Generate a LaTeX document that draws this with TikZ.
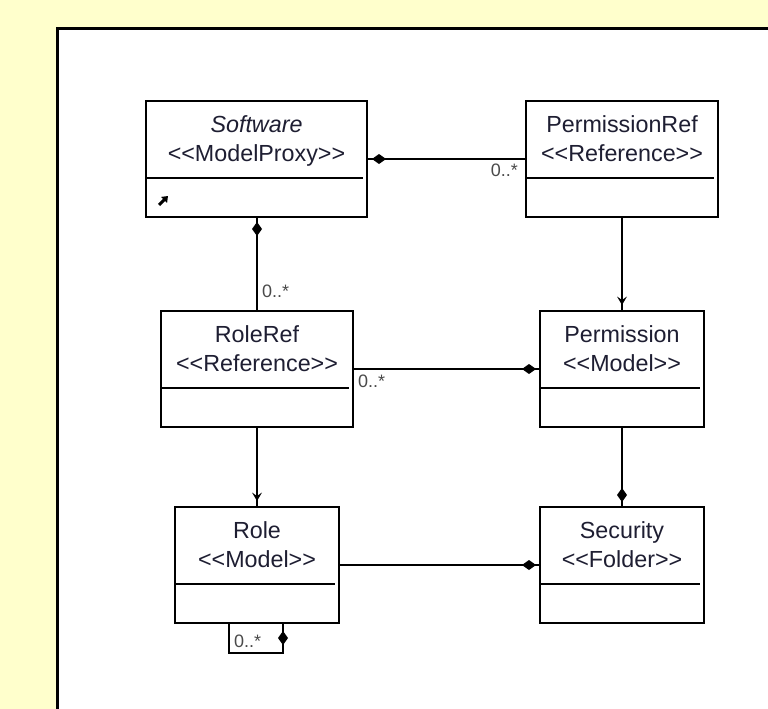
\documentclass[tikz,border=0pt]{standalone}
\usepackage{fontspec}
\newfontfamily\umlfont{Liberation Sans}
\usetikzlibrary{calc,arrows.meta}
\definecolor{pagebg}{HTML}{FFFFCC}
\definecolor{inktext}{HTML}{1E1E32}
\definecolor{multtext}{HTML}{4A4A4A}
% stereotype text with the angle brackets kept literal
\newcommand\stereo[1]{<\kern0pt<#1>\kern0pt>}
% one UML class: name, x, y, width, class name, stereotype
\newcommand\umlclass[6]{%
  \node[classbox, minimum width=#4] (#1) at (#2,#3) {};
  \node[classname] (#1-name) at ($(#1.north)+(0,31.5)$) {#5};
  \node[classname] (#1-stereo) at ($(#1.north)+(0,60)$) {\stereo{#6}};
  \draw[divider] ($(#1.north west)+(0,77)$) -- ($(#1.north east)+(-4,77)$);
}
\begin{document}
\begin{tikzpicture}[x=1pt,y=-1pt,
  classbox/.style={draw=black, line width=2.2pt, fill=white, inner sep=0pt,
    outer sep=0pt, minimum height=116pt},
  classname/.style={anchor=base, inner sep=0pt, text=inktext,
    font=\umlfont\fontsize{23.3}{28}\selectfont},
  mult/.style={inner sep=0pt, text=multtext,
    font=\umlfont\fontsize{18}{22}\selectfont},
  conn/.style={line width=2.2pt, draw=black},
  divider/.style={line width=2.2pt, draw=black},
  hdiamond/.pic={\fill (0,0) -- (7,-5) -- (14,0) -- (7,5) -- cycle;},
  vdiamond/.pic={\fill (0,0) -- (5,7) -- (0,14) -- (-5,7) -- cycle;},
  downtip/.pic={\fill (0,0) -- (-5,-8.5) -- (0,-5) -- (5,-8.5) -- cycle;},
]
\useasboundingbox (0,0) rectangle (768,709);
\clip (0,0) rectangle (768,709);
\fill[pagebg] (0,0) rectangle (768,709);
\draw[line width=3pt, fill=white] (57.5,28.5) rectangle (800,760);

% classes
\umlclass{sw}{256.5}{159}{221pt}{\itshape Software}{ModelProxy}
\umlclass{pr}{622}{159}{192pt}{PermissionRef}{Reference}
\umlclass{rr}{257}{369}{192pt}{RoleRef}{Reference}
\umlclass{pm}{622}{369}{164pt}{Permission}{Model}
\umlclass{rl}{257}{565}{164pt}{Role}{Model}
\umlclass{sc}{622}{565}{164pt}{Security}{Folder}

% proxy marker in the Software class
\draw[line width=3pt, -{Triangle[length=5.5pt,width=8pt]}]
  ($(sw.south west)+(13,-12)$) -- ($(sw.south west)+(22,-21)$);

% PermissionRef -- Software (composition)
\draw[conn] (pr.west) -- (sw.east);
\pic at ($(sw.east)+(5,0)$) {hdiamond};
\node[mult, anchor=base east] (m1) at ($(pr.west)+(-8,17)$) {0..*};

% Software -- RoleRef (composition)
\draw[conn] (rr.north) -- (rr.north |- sw.south);
\pic at ($(rr.north |- sw.south)+(0,5)$) {vdiamond};
\node[mult, anchor=base west] (m2) at ($(rr.north)+(5,-14)$) {0..*};

% PermissionRef -> Permission
\draw[conn] (pr.south) -- (pm.north);
\pic at ($(pm.north)+(0,-6)$) {downtip};

% RoleRef -- Permission (composition)
\draw[conn] (rr.east) -- (pm.west);
\pic at ($(pm.west)+(-18,0)$) {hdiamond};
\node[mult, anchor=base west] (m3) at ($(rr.east)+(5,18)$) {0..*};

% RoleRef -> Role
\draw[conn] (rr.south) -- (rl.north);
\pic at ($(rl.north)+(0,-6)$) {downtip};

% Permission -- Security (composition)
\draw[conn] (pm.south) -- (sc.north);
\pic at ($(sc.north)+(0,-19)$) {vdiamond};

% Role -- Security (composition)
\draw[conn] (rl.east |- sc.west) -- (sc.west);
\pic at ($(sc.west)+(-18,0)$) {hdiamond};

% Role self composition
\draw[conn] ($(rl.south)+(-28,0)$) -- ++(0,30) -| ($(rl.south)+(26,0)$);
\pic at ($(rl.south)+(26,8)$) {vdiamond};
\node[mult, anchor=base west] (m4) at ($(rl.south)+(-23,24)$) {0..*};
\end{tikzpicture}
\end{document}
